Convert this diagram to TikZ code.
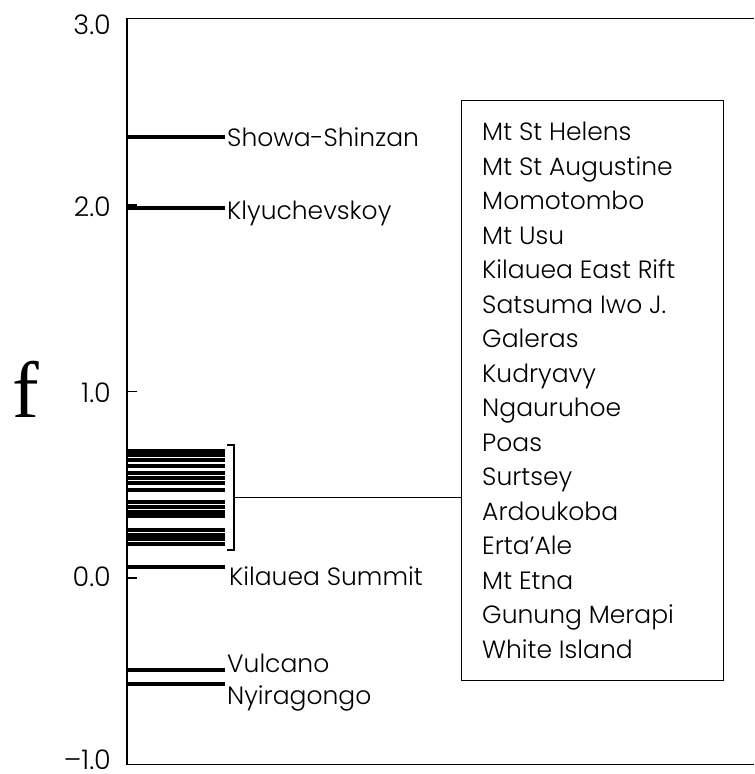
\documentclass[tikz,border=0pt]{standalone}
\usepackage{fontspec}
\setmainfont{Poppins}[UprightFont=* Light]
\newfontfamily\vcserif{Liberation Serif}
\usetikzlibrary{positioning}
\tikzset{
  vcaxis/.style={line width=1.8pt},
  vcbar/.style={line width=3.3pt},
  vclabel/.style={anchor=base west, inner sep=0pt, font=\fontsize{25}{29}\selectfont},
  vcticklabel/.style={anchor=east, inner sep=0pt, font=\fontsize{27}{31}\selectfont},
  vcbox/.style={draw, line width=1.3pt, inner sep=0pt, anchor=north west},
  vcname/.style={vclabel},
}

\begin{document}
\begin{tikzpicture}[x=1pt, y=186.5pt]
  \useasboundingbox (0,-1.051) rectangle (754,3.099);

  % Frame: left axis with top and bottom rules.
  \coordinate (axtl) at (127,3);
  \coordinate (axbl) at (127,-1);
  \coordinate (axtr) at (754,3);
  \coordinate (axbr) at (754,-1);
  \draw[vcaxis] (axtr) -- (axtl) -- (axbl) -- (axbr);
  \foreach \t in {0,1,2}
    \draw[line width=1.5pt] (127,\t) -- (137,\t);

  % Tick labels and axis name.
  \node[vcticklabel] (t3) at (111,2.965) {3.0};
  \node[vcticklabel] (t2) at (111,1.989) {2.0};
  \node[vcticklabel] (t1) at (111,0.992) {1.0};
  \node[vcticklabel] (t0) at (111,0.005) {0.0};
  \node[vcticklabel] (tm1) at (111,-0.975) {–1.0};
  \node[anchor=base west, inner sep=0pt, font=\vcserif\fontsize{80}{84}\selectfont] (fname) at (12,0.858) {f};

  % Single volcanoes.
  \draw[vcbar] (127,2.365) -- (225,2.365);
  \draw[vcbar] (127,1.984) -- (225,1.984);
  \draw[vcbar] (127,0.059) -- (225,0.059);
  \draw[vcbar] (127,-0.493) -- (225,-0.493);
  \draw[vcbar] (127,-0.568) -- (225,-0.568);
  \node[vclabel] (showa) at (227,2.316) {Showa-Shinzan};
  \node[vclabel] (klyu) at (227,1.920) {Klyuchevskoy};
  \node[vclabel] (kilsum) at (229,-0.038) {Kilauea Summit};
  \node[vclabel] (vulc) at (227,-0.509) {Vulcano};
  \node[vclabel] (nyir) at (227,-0.676) {Nyiragongo};

  % Cluster of volcanoes listed in the box.
  \foreach \f in {0.681,0.660,0.633,0.601,0.563,0.536,0.509,0.472,
                  0.408,0.381,0.354,0.332,0.257,0.231,0.209,0.182}
    \draw[vcbar] (127,\f) -- (225,\f);
  \coordinate (brtop) at (234,0.713);
  \coordinate (brbot) at (234,0.150);
  \coordinate (brmid) at (234,0.429);
  \draw[line width=1.3pt] (227,0.713) -- (brtop) -- (brbot) -- (227,0.150);

  % List box.
  \node[vcbox, minimum width=262pt, minimum height=580pt] (list) at (461,2.563) {};
  \foreach \nm [count=\i] in {Mt St Helens, Mt St Augustine, Momotombo, Mt Usu,
      Kilauea East Rift, Satsuma Iwo J., Galeras, Kudryavy, Ngauruhoe, Poas,
      Surtsey, Ardoukoba, Erta’Ale, Mt Etna, Gunung Merapi, White Island}
    \node[vcname] (name\i) at (482,{(437-34.5*(\i-1))/186.5}) {\nm};
  \draw[line width=1pt] (brmid) -- (brmid -| list.west);
\end{tikzpicture}
\end{document}
